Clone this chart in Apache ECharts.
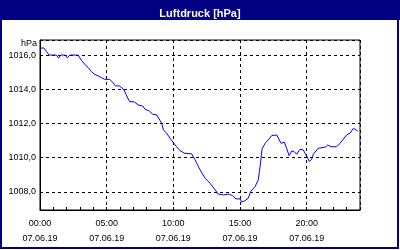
<!DOCTYPE html>
<html>
<head>
<meta charset="utf-8">
<script src="https://cdn.jsdelivr.net/npm/echarts@6/dist/echarts.min.js"></script>
<style>html,body{margin:0;padding:0;background:#fff}#c{width:400px;height:250px}</style>
</head>
<body>
<div id="c"></div>
<script>
const titleText = 'Luftdruck [hPa]';
const unitLabel = 'hPa';
const dateLabel = '07.06.19';
const hours = [0, 0.3, 0.49, 0.68, 1.22, 1.4, 1.55, 1.88, 2.05, 2.23, 2.85, 3.1, 3.35, 3.6, 3.85, 4.1, 4.35, 4.6, 4.85, 5.23, 5.48, 5.65, 5.98, 6.3, 6.47, 6.73, 7.05, 7.37, 7.7, 7.88, 8.2, 8.45, 8.75, 9.13, 9.25, 9.5, 9.75, 10.13, 10.5, 10.82, 11.38, 11.63, 12.0, 12.38, 12.75, 13.13, 13.37, 13.75, 14.2, 14.45, 14.7, 15.0, 15.13, 15.38, 15.62, 15.8, 16.13, 16.25, 16.37, 16.46, 16.58, 16.65, 16.88, 17.12, 17.38, 17.75, 17.87, 18.08, 18.32, 18.5, 18.68, 18.88, 19.07, 19.25, 19.5, 19.75, 19.88, 20.08, 20.2, 20.38, 20.5, 20.63, 20.87, 21.0, 21.38, 21.58, 21.83, 22.25, 22.5, 22.75, 23.0, 23.25, 23.5, 23.63, 23.83];
const pressure = [1016.41, 1016.41, 1016.2, 1016.0, 1016.0, 1015.82, 1016.0, 1016.0, 1015.83, 1016.0, 1016.0, 1015.7, 1015.46, 1015.28, 1015.03, 1014.87, 1014.79, 1014.68, 1014.58, 1014.58, 1014.38, 1014.2, 1014.19, 1013.96, 1013.66, 1013.27, 1013.27, 1013.08, 1013.02, 1012.83, 1012.73, 1012.54, 1012.5, 1012.01, 1011.62, 1011.43, 1011.14, 1010.74, 1010.41, 1010.26, 1010.22, 1009.87, 1009.29, 1008.8, 1008.51, 1008.12, 1007.87, 1007.82, 1007.87, 1007.77, 1007.59, 1007.59, 1007.4, 1007.49, 1007.63, 1008.02, 1008.31, 1008.41, 1008.7, 1009.2, 1009.97, 1010.5, 1010.84, 1011.04, 1011.29, 1011.33, 1011.23, 1010.84, 1010.9, 1010.55, 1010.12, 1010.39, 1010.35, 1010.2, 1010.49, 1010.45, 1010.26, 1009.97, 1009.77, 1009.91, 1010.2, 1010.26, 1010.55, 1010.61, 1010.61, 1010.74, 1010.64, 1010.64, 1010.84, 1011.09, 1011.33, 1011.43, 1011.72, 1011.78, 1011.56];

const font = 'Liberation Sans, Arial, sans-serif';
const data = hours.map((h, i) => [h, pressure[i]]);
const pad = n => (n < 10 ? '0' : '') + n;

const chart = echarts.init(document.getElementById('c'), null, {renderer: 'canvas'});
chart.setOption({
  animation: false,
  backgroundColor: '#ffffff',
  title: {
    text: titleText, left: 'center', top: 3,
    textStyle: {color: '#fff', fontFamily: font, fontSize: 11, fontWeight: 'bold'}
  },
  graphic: [
    {type: 'rect', z: -10, shape: {x: 0, y: 0, width: 400, height: 20}, style: {fill: '#000080'}},
    {type: 'rect', z: 100, shape: {x: 1, y: 1, width: 397, height: 247}, style: {fill: null, stroke: '#000080', lineWidth: 2}},
    {type: 'text', x: 37, y: 44, style: {text: unitLabel, align: 'right', verticalAlign: 'middle', fontFamily: font, fontSize: 9, fill: '#000'}}
  ],
  grid: {left: 40, top: 40, right: 40, bottom: 40, show: true, borderColor: '#000', borderWidth: 1, backgroundColor: '#fff'},
  xAxis: [{
    type: 'value', min: 0, max: 24, interval: 5,
    axisLine: {show: true, lineStyle: {color: '#000'}},
    axisTick: {show: false},
    splitLine: {show: true, lineStyle: {color: '#000', type: [3, 3], width: 1}},
    axisLabel: {
      margin: 6, fontFamily: font, fontSize: 9, color: '#000', lineHeight: 15,
      formatter: v => (v % 5 === 0 && v < 24) ? pad(v) + ':00\n' + dateLabel : ''
    }
  }, {
    type: 'value', min: 0, max: 24, interval: 1, position: 'bottom',
    axisLine: {show: false},
    axisTick: {show: true, inside: true, length: 3, lineStyle: {color: '#000'}},
    axisLabel: {show: false},
    splitLine: {show: false}
  }],
  yAxis: {
    type: 'value', min: 1006.94, max: 1016.88,
    axisLine: {show: true, lineStyle: {color: '#000'}},
    axisTick: {show: false},
    splitLine: {show: true, lineStyle: {color: '#000', type: [3, 3], width: 1}},
    axisLabel: {
      margin: 4, fontFamily: font, fontSize: 9, color: '#000',
      formatter: v => {
        const r = Math.round(v);
        return (Math.abs(v - r) < 1e-6 && r % 2 === 0) ? r.toFixed(1).replace('.', ',') : '';
      }
    }
  },
  series: [{
    type: 'line', data: data, showSymbol: false, symbol: 'none',
    lineStyle: {color: '#0000ff', width: 1}, itemStyle: {color: '#0000ff'}
  }]
});
</script>
</body>
</html>
